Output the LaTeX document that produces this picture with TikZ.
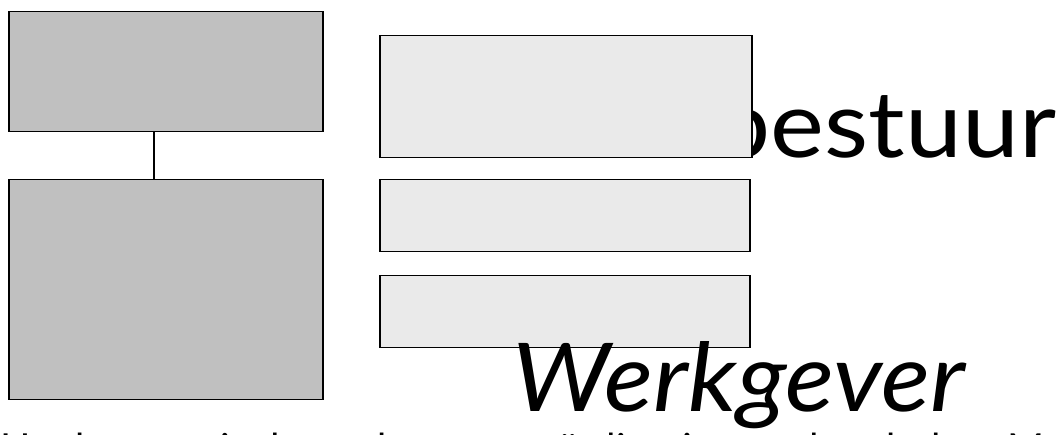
\documentclass[tikz,border=0pt]{standalone}
\usepackage{fontspec}
\setmainfont{Lato}
\definecolor{boxdark}{HTML}{C0C0C0}
\definecolor{boxlight}{HTML}{EAEAEA}
\begin{document}
\begin{tikzpicture}[x=1pt,y=-1pt,
  darkbox/.style={draw=black, line width=1.5pt, fill=boxdark, inner sep=0pt, anchor=north west},
  lightbox/.style={draw=black, line width=1.5pt, fill=boxlight, inner sep=0pt, anchor=north west},
  bigtext/.style={inner sep=0pt, outer sep=0pt}]
\useasboundingbox (0,0) rectangle (1063,435);
\clip (0,0) rectangle (1063,435);
% title text behind the first middle box
\node (title) [bigtext, anchor=base east] at (1056,158) {\resizebox{643pt}{68pt}{\fontsize{100}{100}\selectfont Schoolbestuur}};
% left column
\node (lt) [darkbox, minimum width=314pt, minimum height=120pt] at (8,11) {};
\node (lb) [darkbox, minimum width=314pt, minimum height=220pt] at (8,179) {};
\draw[line width=1.5pt] ([xshift=-12pt]lt.south) -- ([xshift=-12pt]lb.north);
% middle column
\node (m1) [lightbox, minimum width=372pt, minimum height=122pt] at (379,35) {};
\node (m2) [lightbox, minimum width=370pt, minimum height=72pt] at (379,179) {};
\node (m3) [lightbox, minimum width=370pt, minimum height=72pt] at (379,275) {};
% Werkgever
\node (werk) [bigtext, anchor=base west] at (512,412) {\resizebox{453pt}{70pt}{\fontsize{100}{100}\selectfont\itshape Werkgever}};
% cut-off line at the bottom
\node (foot) [bigtext, anchor=base west] at (0,462) {\fontsize{40}{40}\selectfont Het bestuur is de werkgever; coördinatie van de scholen. Medezeggenschap};
\end{tikzpicture}
\end{document}
